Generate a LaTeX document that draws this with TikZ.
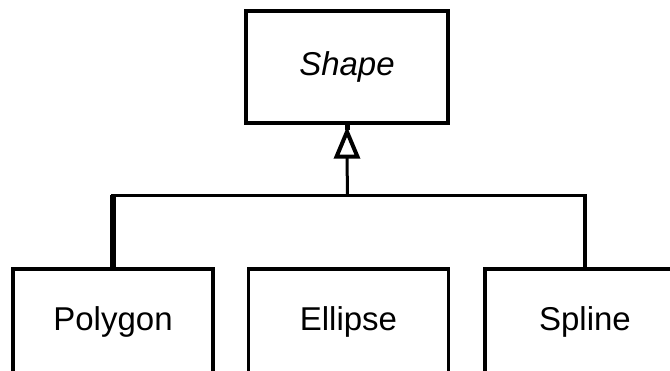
\documentclass[tikz,border=0pt]{standalone}
\usepackage{fontspec}
\setmainfont{Liberation Sans}
\usetikzlibrary{arrows.meta}
\begin{document}
\begin{tikzpicture}[x=1pt,y=-1pt,
  cls/.style={draw,line width=3.5pt,minimum width=200pt,minimum height=106pt,inner sep=0pt,font=\fontsize{33}{40}\selectfont},
  link/.style={line width=3.5pt},
  headstyle/.style={draw,fill=white,line width=4pt,line join=miter}]
\useasboundingbox (0,0) rectangle (670,371);
\clip (0,0) rectangle (670,371);
\fill[white] (0,0) rectangle (670,371);
\node[cls,minimum width=202pt,minimum height=112pt] (shape) at (347,67) {\itshape Shape};
\node[cls] (polygon) at (113,322) {Polygon};
\node[cls] (ellipse) at (348.5,322) {Ellipse};
\node[cls] (spline) at (585,322) {Spline};
\coordinate (junction) at (347.5,195.5);
\coordinate (headbase) at ([yshift=-32pt]shape.south);
\draw[link,line cap=rect] (polygon.north) |- (junction) -| (spline.north);
\draw[line width=6pt] (polygon.north) -- (polygon.north |- junction);
\draw[line width=3pt] (junction) -- (headbase);
\draw[line width=5pt] (shape.south) -- ([yshift=-5pt]shape.south);
\path[headstyle] ([yshift=-7pt]shape.south) -- ([xshift=10.5pt]headbase) -- ([xshift=-10.5pt]headbase) -- cycle;
\end{tikzpicture}
\end{document}
